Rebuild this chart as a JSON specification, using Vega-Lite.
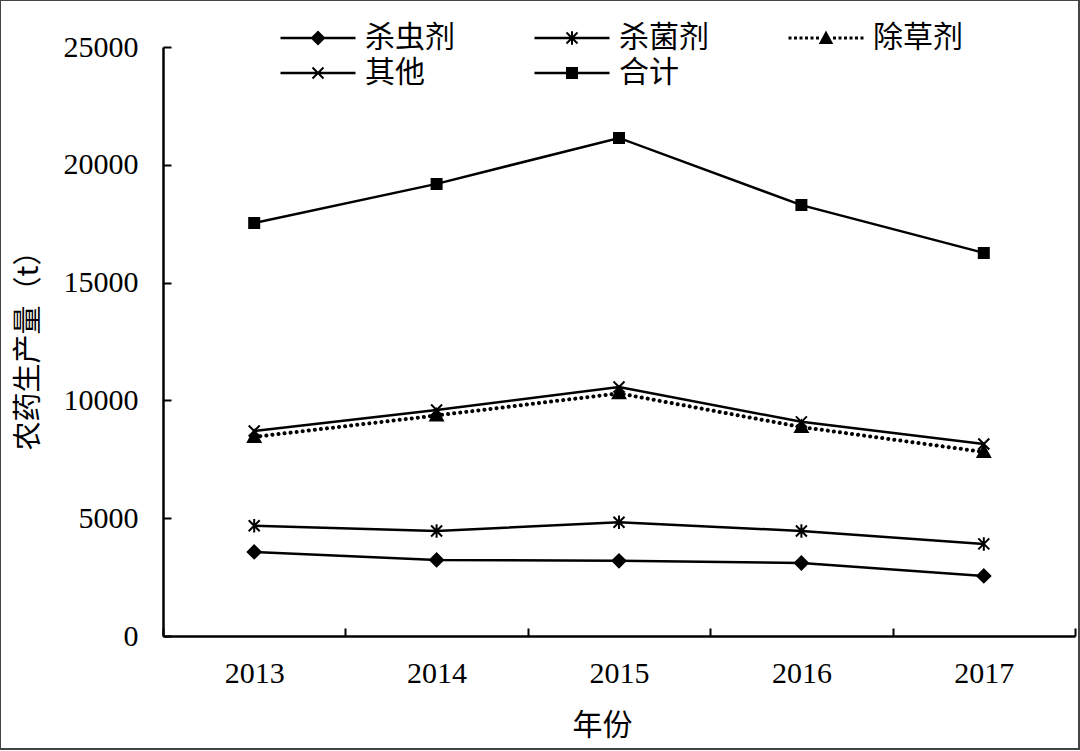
{
  "$schema": "https://vega.github.io/schema/vega-lite/v6.json",
  "width": 1079,
  "height": 749,
  "autosize": {"type": "none"},
  "padding": {"left": 0, "top": 0, "right": 1, "bottom": 2},
  "background": "white",
  "config": {
    "view": {"stroke": "#444444", "strokeWidth": 2},
    "axis": {
      "labelFont": "Liberation Serif",
      "labelFontSize": 30,
      "labelColor": "black",
      "titleFont": "Noto Sans CJK SC",
      "titleFontSize": 30,
      "titleFontWeight": "normal",
      "titleColor": "black",
      "domainColor": "black",
      "domainWidth": 2.5,
      "tickColor": "black",
      "tickWidth": 2,
      "grid": false
    }
  },
  "data": {
    "values": [
      {"year": "2013", "series": "杀虫剂", "value": 3570},
      {"year": "2014", "series": "杀虫剂", "value": 3230},
      {"year": "2015", "series": "杀虫剂", "value": 3190},
      {"year": "2016", "series": "杀虫剂", "value": 3100},
      {"year": "2017", "series": "杀虫剂", "value": 2550},
      {"year": "2013", "series": "杀菌剂", "value": 4680},
      {"year": "2014", "series": "杀菌剂", "value": 4460},
      {"year": "2015", "series": "杀菌剂", "value": 4830},
      {"year": "2016", "series": "杀菌剂", "value": 4460},
      {"year": "2017", "series": "杀菌剂", "value": 3910},
      {"year": "2013", "series": "除草剂", "value": 8450},
      {"year": "2014", "series": "除草剂", "value": 9360},
      {"year": "2015", "series": "除草剂", "value": 10300},
      {"year": "2016", "series": "除草剂", "value": 8870},
      {"year": "2017", "series": "除草剂", "value": 7810},
      {"year": "2013", "series": "其他", "value": 8700},
      {"year": "2014", "series": "其他", "value": 9590},
      {"year": "2015", "series": "其他", "value": 10570},
      {"year": "2016", "series": "其他", "value": 9090},
      {"year": "2017", "series": "其他", "value": 8150},
      {"year": "2013", "series": "合计", "value": 17530},
      {"year": "2014", "series": "合计", "value": 19190},
      {"year": "2015", "series": "合计", "value": 21140},
      {"year": "2016", "series": "合计", "value": 18290},
      {"year": "2017", "series": "合计", "value": 16260}
    ]
  },
  "encoding": {
    "x": {
      "field": "year",
      "type": "nominal",
      "scale": {"type": "band", "range": [163, 1075], "paddingInner": 0, "paddingOuter": 0},
      "axis": {
        "orient": "bottom",
        "offset": -113,
        "tickBand": "extent",
        "tickSize": -8,
        "labelPadding": 30,
        "labelAngle": 0,
        "title": "年份",
        "titleX": 602,
        "titleY": 89,
        "titleAnchor": null,
        "titleAlign": "center",
        "titleBaseline": "middle"
      }
    },
    "y": {
      "field": "value",
      "type": "quantitative",
      "scale": {"domain": [0, 25000], "range": [636, 47], "nice": false, "zero": true},
      "axis": {
        "orient": "left",
        "offset": -163,
        "values": [0, 5000, 10000, 15000, 20000, 25000],
        "format": "d",
        "tickSize": -8,
        "labelPadding": 33,
        "title": "农药生产量（t）",
        "titleFontSize": 29,
        "titleX": -135,
        "titleY": 343,
        "titleAngle": -90,
        "titleAlign": "center",
        "titleBaseline": "middle"
      }
    }
  },
  "layer": [
    {
      "transform": [{"filter": "datum.series === '除草剂'"}],
      "mark": {"type": "line", "color": "black", "strokeWidth": 4, "strokeCap": "round", "strokeDash": [0.1, 6]},
      "encoding": {}
    },
    {
      "transform": [{"filter": "datum.series !== '除草剂'"}],
      "mark": {"type": "line", "color": "black", "strokeWidth": 2.5},
      "encoding": {"detail": {"field": "series", "type": "nominal"}}
    },
    {
      "mark": {"type": "point", "filled": true, "fill": "black", "stroke": "black", "strokeWidth": 2, "size": 100, "opacity": 1},
      "encoding": {
        "shape": {
          "field": "series",
          "type": "nominal",
          "scale": {
            "domain": ["杀虫剂", "杀菌剂", "除草剂", "其他", "合计"],
            "range": [
              "M0,-1.3L1.3,0L0,1.3L-1.3,0Z",
              "M-1.1,-1.1L1.1,1.1M-1.1,1.1L1.1,-1.1M0,-1.35L0,1.35",
              "M0,-1.3L1.25,1L-1.25,1Z",
              "M-1.1,-1.1L1.1,1.1M-1.1,1.1L1.1,-1.1",
              "M-1,-1H1V1H-1Z"
            ]
          },
          "legend": null
        }
      }
    },
    {
      "transform": [{"filter": "false"}],
      "mark": {"type": "point", "filled": true, "fill": "black", "size": 100, "opacity": 1},
      "encoding": {
        "shape": {
          "field": "series",
          "type": "nominal",
          "scale": {
            "domain": ["杀虫剂", "杀菌剂", "除草剂", "其他", "合计"],
            "range": [
              "M-7.5,-0.25H7.5V0.25H-7.5ZM0,-1.5L1.5,0L0,1.5L-1.5,0Z",
              "M-7.5,-0.25H7.5V0.25H-7.5ZM-0.96,-1.24L1.24,0.96L0.96,1.24L-1.24,-0.96ZM-0.96,1.24L-1.24,0.96L0.96,-1.24L1.24,-0.96ZM-0.2,-1.35H0.2V1.35H-0.2Z",
              "M-7.5,-0.3h0.6v0.6h-0.6ZM-6.4,-0.3h0.6v0.6h-0.6ZM-5.3,-0.3h0.6v0.6h-0.6ZM-4.2,-0.3h0.6v0.6h-0.6ZM-3.1,-0.3h0.6v0.6h-0.6ZM-2,-0.3h0.6v0.6h-0.6ZM1.4,-0.3h0.6v0.6h-0.6ZM2.5,-0.3h0.6v0.6h-0.6ZM3.6,-0.3h0.6v0.6h-0.6ZM4.7,-0.3h0.6v0.6h-0.6ZM5.8,-0.3h0.6v0.6h-0.6ZM6.9,-0.3h0.6v0.6h-0.6ZM0,-1.5L1.45,1.2L-1.45,1.2Z",
              "M-7.5,-0.25H7.5V0.25H-7.5ZM-0.96,-1.24L1.24,0.96L0.96,1.24L-1.24,-0.96ZM-0.96,1.24L-1.24,0.96L0.96,-1.24L1.24,-0.96Z",
              "M-7.5,-0.25H7.5V0.25H-7.5ZM-1.2,-1.2H1.2V1.2H-1.2Z"
            ]
          },
          "legend": {
            "title": null,
            "orient": "none",
            "legendX": 281,
            "legendY": 23,
            "direction": "horizontal",
            "columns": 3,
            "padding": 0,
            "columnPadding": 76,
            "rowPadding": 5,
            "symbolSize": 100,
            "symbolOffset": 22,
            "symbolFillColor": "black",
            "symbolOpacity": 1,
            "labelOffset": 32,
            "labelFont": "Noto Sans CJK SC",
            "labelFontSize": 30,
            "labelColor": "black",
            "labelLimit": 300
          }
        }
      }
    }
  ],
  "resolve": {"scale": {"shape": "independent"}, "legend": {"shape": "independent"}}
}
